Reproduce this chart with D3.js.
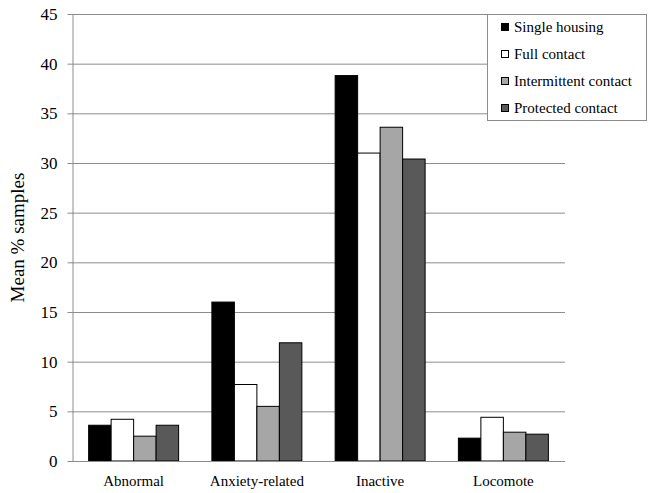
<!DOCTYPE html>
<html lang="en">
<head>
<meta charset="utf-8">
<style type="text/css">
  body { margin: 0; background: #fff; }
  text { font-family: "Liberation Serif", "Times New Roman", serif; fill: #000; }
  .grid line { stroke: #8c8c8c; stroke-width: 1px; }
</style>
</head>
<body>
<svg width="654" height="493"></svg>
<script src="https://cdn.jsdelivr.net/npm/d3@7/dist/d3.min.js"></script>
<script type="text/javascript">
var categories = ["Abnormal", "Anxiety-related", "Inactive", "Locomote"];
var seriesNames = ["Single housing", "Full contact", "Intermittent contact", "Protected contact"];
var singleHousing = [3.6, 16.0, 38.8, 2.3];
var fullContact = [4.2, 7.7, 31.0, 4.4];
var intermittentContact = [2.5, 5.5, 33.6, 2.9];
var protectedContact = [3.6, 11.9, 30.4, 2.7];
var yTicks = [0, 5, 10, 15, 20, 25, 30, 35, 40, 45];

var colors = ["#000000", "#ffffff", "#a6a6a6", "#595959"];
var seriesValues = [singleHousing, fullContact, intermittentContact, protectedContact];

var svg = d3.select("svg"),
    plotLeft = 72, plotRight = 565, plotTop = 14, plotBottom = 461;

var x = d3.scaleBand().domain(categories).range([plotLeft, plotRight]).paddingInner(0.27).paddingOuter(0.135);
var xs = d3.scaleBand().domain(seriesNames).range([0, x.bandwidth()]);
var y = d3.scaleLinear().domain([0, 45]).range([plotBottom, plotTop]);

// gridlines
svg.append("g").attr("class", "grid")
  .selectAll("line").data(yTicks.filter(function(d){ return d > 0; }))
  .enter().append("line")
  .attr("x1", plotLeft).attr("x2", plotRight)
  .attr("y1", function(d){ return y(d) + 0.5; })
  .attr("y2", function(d){ return y(d) + 0.5; });

// bars
var rows = categories.map(function(c, i){
  return seriesNames.map(function(s, j){ return {cat: c, s: s, v: seriesValues[j][i], j: j}; });
});
svg.append("g").selectAll("g").data(rows).enter().append("g")
  .selectAll("rect").data(function(d){ return d; }).enter().append("rect")
  .attr("x", function(d){ return x(d.cat) + xs(d.s); })
  .attr("width", xs.bandwidth())
  .attr("y", function(d){ return y(d.v); })
  .attr("height", function(d){ return plotBottom - y(d.v); })
  .attr("fill", function(d){ return colors[d.j]; })
  .attr("stroke", "#000")
  .attr("stroke-width", 1);

// y axis
var yAxis = svg.append("g").attr("transform", "translate(" + (plotLeft + 0.5) + ",0)")
  .call(d3.axisLeft(y).tickValues(yTicks).tickSize(5).tickPadding(10).tickSizeOuter(0));
yAxis.select(".domain").attr("stroke", "#8c8c8c");
yAxis.selectAll(".tick line").attr("stroke", "#8c8c8c");
yAxis.selectAll(".tick text").style("font-size", "17px").attr("fill", "#000");

// x axis
var xAxis = svg.append("g").attr("transform", "translate(0," + (plotBottom + 0.5) + ")")
  .call(d3.axisBottom(x).tickSize(0).tickPadding(14));
xAxis.select(".domain").attr("stroke", "#8c8c8c").attr("d", "M" + plotLeft + ",0H" + plotRight);
xAxis.selectAll(".tick text").style("font-size", "15px").attr("fill", "#000");

// y label
svg.append("text")
  .attr("transform", "translate(24," + ((plotTop + plotBottom) / 2) + ") rotate(-90)")
  .attr("text-anchor", "middle")
  .style("font-size", "19px")
  .text("Mean % samples");

// legend
var legend = svg.append("g");
legend.append("rect")
  .attr("x", 487.5).attr("y", 14.5).attr("width", 159).attr("height", 106)
  .attr("fill", "#fff").attr("stroke", "#8c8c8c");
var item = legend.selectAll("g").data(seriesNames).enter().append("g")
  .attr("transform", function(d, i){ return "translate(501," + (27 + i * 27) + ")"; });
item.append("rect")
  .attr("x", 0.5).attr("y", -3.5).attr("width", 7).attr("height", 7)
  .attr("fill", function(d, i){ return colors[i]; })
  .attr("stroke", "#000");
item.append("text")
  .attr("x", 13).attr("dy", "0.35em")
  .style("font-size", "15px")
  .text(function(d){ return d; });
</script>
</body>
</html>
